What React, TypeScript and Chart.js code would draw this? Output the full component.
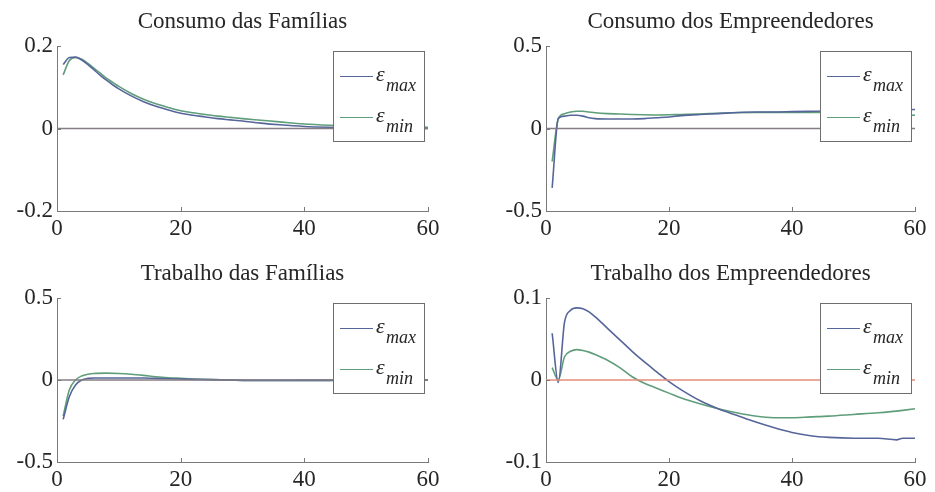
import React, { useEffect, useRef } from "react";
import { Chart, registerables } from "chart.js";

Chart.register(...registerables);

const SERIF = "'Liberation Serif', 'Times New Roman', 'DejaVu Serif', serif";

const xTicks = [0, 20, 40, 60];
const legendSubs = ["max", "min"];
const zeroX = [0, 60];
const zeroY = [0, 0];

// Consumo das Famílias
const titleConsFam = "Consumo das Famílias";
const yTicksConsFam = [-0.2, 0, 0.2];
const xConsFam = [1, 2, 3, 4, 5, 6, 7, 8, 9, 10, 12, 14, 16, 18, 20, 22, 24, 26, 28, 30, 33, 36, 40, 44, 48, 52, 56, 60];
const consFamMax = [0.155, 0.172, 0.173, 0.166, 0.155, 0.142, 0.129, 0.117, 0.106, 0.096, 0.079, 0.065, 0.054, 0.045, 0.037, 0.032, 0.028, 0.024, 0.021, 0.018, 0.013, 0.009, 0.005, 0.003, 0.002, 0.001, 0.0005, 0];
const consFamMin = [0.13, 0.165, 0.172, 0.168, 0.158, 0.146, 0.134, 0.122, 0.112, 0.102, 0.085, 0.071, 0.06, 0.051, 0.043, 0.038, 0.034, 0.03, 0.027, 0.024, 0.02, 0.016, 0.011, 0.008, 0.006, 0.005, 0.004, 0.003];

// Consumo dos Empreendedores
const titleConsEmp = "Consumo dos Empreendedores";
const yTicksConsEmp = [-0.5, 0, 0.5];
const xConsEmp = [1, 2, 3, 4, 5, 6, 7, 8, 10, 12, 14, 16, 18, 20, 22, 25, 28, 31, 34, 37, 40, 44, 48, 52, 56, 60];
const consEmpMax = [-0.36, 0.06, 0.075, 0.08, 0.08, 0.075, 0.065, 0.06, 0.058, 0.058, 0.058, 0.06, 0.065, 0.07, 0.078, 0.085, 0.09, 0.097, 0.1, 0.1, 0.102, 0.105, 0.108, 0.11, 0.112, 0.115];
const consEmpMin = [-0.2, 0.06, 0.09, 0.1, 0.105, 0.105, 0.1, 0.095, 0.09, 0.088, 0.085, 0.083, 0.082, 0.083, 0.085, 0.088, 0.092, 0.095, 0.097, 0.098, 0.098, 0.097, 0.095, 0.09, 0.085, 0.08];

// Trabalho das Famílias
const titleTrabFam = "Trabalho das Famílias";
const yTicksTrabFam = [-0.5, 0, 0.5];
const xTrabFam = [1, 2, 3, 4, 5, 6, 8, 10, 12, 14, 16, 18, 20, 22, 25, 28, 31, 34, 37, 40, 44, 48, 52, 56, 60];
const trabFamMax = [-0.24, -0.1, -0.03, 0.0, 0.01, 0.012, 0.012, 0.012, 0.012, 0.012, 0.01, 0.008, 0.006, 0.004, 0.002, 0, -0.002, -0.002, -0.002, -0.002, -0.002, -0.001, -0.001, 0, 0];
const trabFamMin = [-0.22, -0.06, 0.0, 0.025, 0.035, 0.04, 0.042, 0.04, 0.035, 0.028, 0.02, 0.014, 0.01, 0.006, 0.002, -0.001, -0.003, -0.003, -0.003, -0.002, -0.002, -0.001, -0.001, 0, 0];

// Trabalho dos Empreendedores
const titleTrabEmp = "Trabalho dos Empreendedores";
const yTicksTrabEmp = [-0.1, 0, 0.1];
const xTrabEmp = [1, 2, 3, 4, 5, 6, 7, 8, 10, 12, 14, 16, 18, 20, 22, 25, 28, 31, 34, 37, 40, 43, 46, 50, 54, 57, 58, 60];
const trabEmpMax = [0.057, -0.003, 0.07, 0.085, 0.088, 0.087, 0.083, 0.077, 0.063, 0.049, 0.035, 0.022, 0.01, -0.002, -0.012, -0.025, -0.035, -0.043, -0.051, -0.058, -0.064, -0.068, -0.07, -0.071, -0.071, -0.073, -0.071, -0.071];
const trabEmpMin = [0.015, 0.0, 0.028, 0.035, 0.037, 0.036, 0.034, 0.031, 0.024, 0.015, 0.004, -0.004, -0.01, -0.016, -0.022, -0.029, -0.035, -0.04, -0.044, -0.046, -0.046, -0.045, -0.044, -0.042, -0.04, -0.038, -0.037, -0.035];

const BLUE = "#56669a";
const GREEN = "#5f9e7a";
const GRAY_ZERO = "#857d84";
const RED_ZERO = "#e58b7b";
const AXIS = "#7a7a7a";
const TEXT = "#262626";

type Panel = {
  title: string;
  xs: number[];
  maxY: number[];
  minY: number[];
  yTicks: number[];
  zeroColor: string;
  left: number;
  top: number;
  w: number;
  h: number;
  area: { l: number; r: number; t: number; b: number };
  titlePadTop: number;
};

const panels: Panel[] = [
  { title: titleConsFam, xs: xConsFam, maxY: consFamMax, minY: consFamMin, yTicks: yTicksConsFam, zeroColor: GRAY_ZERO,
    left: 0, top: 0, w: 467, h: 245, area: { l: 57, r: 428, t: 46, b: 211 }, titlePadTop: 8 },
  { title: titleConsEmp, xs: xConsEmp, maxY: consEmpMax, minY: consEmpMin, yTicks: yTicksConsEmp, zeroColor: GRAY_ZERO,
    left: 467, top: 0, w: 468, h: 245, area: { l: 546, r: 915, t: 46, b: 211 }, titlePadTop: 8 },
  { title: titleTrabFam, xs: xTrabFam, maxY: trabFamMax, minY: trabFamMin, yTicks: yTicksTrabFam, zeroColor: GRAY_ZERO,
    left: 0, top: 245, w: 467, h: 247, area: { l: 57, r: 428, t: 298, b: 462 }, titlePadTop: 15 },
  { title: titleTrabEmp, xs: xTrabEmp, maxY: trabEmpMax, minY: trabEmpMin, yTicks: yTicksTrabEmp, zeroColor: RED_ZERO,
    left: 467, top: 245, w: 468, h: 247, area: { l: 546, r: 915, t: 298, b: 462 }, titlePadTop: 15 },
];

const decorPlugin = {
  id: "matlabDecor",
  afterDatasetsDraw(chart: any) {
    const ctx = chart.ctx;
    const a = chart.chartArea;
    const xs = chart.scales.x;
    const ys = chart.scales.y;
    ctx.save();
    // inward tick marks
    ctx.strokeStyle = AXIS;
    ctx.lineWidth = 1;
    ctx.beginPath();
    xs.ticks.forEach((t: any) => {
      const px = Math.round(xs.getPixelForValue(t.value)) + 0.5;
      ctx.moveTo(px, a.bottom);
      ctx.lineTo(px, a.bottom - 4);
    });
    ys.ticks.forEach((t: any) => {
      const py = Math.round(ys.getPixelForValue(t.value)) + 0.5;
      ctx.moveTo(a.left, py);
      ctx.lineTo(a.left + 4, py);
    });
    ctx.stroke();

    // legend box
    const bw = 91;
    const bh = 90;
    const bx = Math.round(a.right - 4 - bw);
    const by = Math.round(a.top + 5);
    ctx.fillStyle = "#ffffff";
    ctx.fillRect(bx, by, bw, bh);
    ctx.strokeStyle = "#6e6e6e";
    ctx.strokeRect(bx + 0.5, by + 0.5, bw, bh);
    const entries = chart.data.datasets.filter((d: any) => d.legendSub);
    entries.forEach((ds: any, i: number) => {
      const ly = by + 25 + i * 41;
      ctx.strokeStyle = ds.borderColor;
      ctx.lineWidth = 1.2;
      ctx.beginPath();
      ctx.moveTo(bx + 7, ly + 0.5);
      ctx.lineTo(bx + 40, ly + 0.5);
      ctx.stroke();
      ctx.fillStyle = TEXT;
      ctx.textAlign = "left";
      ctx.textBaseline = "alphabetic";
      ctx.font = `italic 22px ${SERIF}`;
      ctx.fillText("ε", bx + 43, ly + 5);
      ctx.font = `italic 18px ${SERIF}`;
      ctx.fillText(ds.legendSub, bx + 53, ly + 15);
    });
    ctx.restore();
  },
};

function makeConfig(p: Panel): any {
  const pts = (xs: number[], ys: number[]) => xs.map((x, i) => ({ x, y: ys[i] }));
  const yW = p.area.l - p.left;
  const xH = p.top + p.h - p.area.b;
  const rightPad = p.left + p.w - p.area.r;
  const titleBox = p.area.t - p.top;
  const lineH = 23 * 1.2;
  const yMin = p.yTicks[0];
  const yMax = p.yTicks[p.yTicks.length - 1];
  return {
    type: "line",
    data: {
      datasets: [
        { label: "zero", data: pts(zeroX, zeroY), borderColor: p.zeroColor, borderWidth: 1.3, pointRadius: 0, tension: 0 },
        { label: "ε max", legendSub: legendSubs[0], data: pts(p.xs, p.maxY), borderColor: BLUE, borderWidth: 1.6, pointRadius: 0, cubicInterpolationMode: "monotone" },
        { label: "ε min", legendSub: legendSubs[1], data: pts(p.xs, p.minY), borderColor: GREEN, borderWidth: 1.6, pointRadius: 0, cubicInterpolationMode: "monotone" },
      ],
    },
    options: {
      animation: false,
      responsive: false,
      maintainAspectRatio: false,
      layout: { padding: { left: 0, right: rightPad, top: 0, bottom: 0 } },
      plugins: {
        legend: { display: false },
        tooltip: { enabled: false },
        title: {
          display: true,
          text: p.title,
          fullSize: false,
          color: TEXT,
          font: { family: SERIF, size: 23, weight: "normal", lineHeight: 1.2 },
          padding: { top: p.titlePadTop, bottom: titleBox - p.titlePadTop - lineH },
        },
      },
      scales: {
        x: {
          type: "linear",
          min: 0,
          max: 60,
          afterBuildTicks: (s: any) => { s.ticks = xTicks.map((v) => ({ value: v })); },
          afterFit: (s: any) => { s.height = xH; },
          grid: { display: false, drawTicks: false },
          border: { display: true, color: AXIS, width: 1 },
          ticks: {
            color: TEXT,
            padding: 4,
            maxRotation: 0,
            autoSkip: false,
            font: { family: SERIF, size: 23 },
            callback: (v: any) => String(v),
          },
        },
        y: {
          type: "linear",
          min: yMin,
          max: yMax,
          afterBuildTicks: (s: any) => { s.ticks = p.yTicks.map((v) => ({ value: v })); },
          afterFit: (s: any) => { s.width = yW; },
          grid: { display: false, drawTicks: false },
          border: { display: true, color: AXIS, width: 1 },
          ticks: {
            color: TEXT,
            padding: 4,
            autoSkip: false,
            font: { family: SERIF, size: 23 },
            callback: (v: any) => String(v),
          },
        },
      },
    },
    plugins: [decorPlugin],
  };
}

function PanelChart({ p }: { p: Panel }) {
  const ref = useRef<HTMLCanvasElement | null>(null);
  useEffect(() => {
    if (!ref.current) return;
    const chart = new Chart(ref.current, makeConfig(p));
    return () => chart.destroy();
  }, [p]);
  return (
    <canvas
      ref={ref}
      width={p.w}
      height={p.h}
      style={{ position: "absolute", left: p.left, top: p.top, width: p.w, height: p.h }}
    />
  );
}

export default function App() {
  return (
    <div style={{ position: "fixed", left: 0, top: 0, width: 935, height: 492, background: "#ffffff", overflow: "hidden" }}>
      {panels.map((p, i) => (
        <PanelChart key={i} p={p} />
      ))}
    </div>
  );
}
